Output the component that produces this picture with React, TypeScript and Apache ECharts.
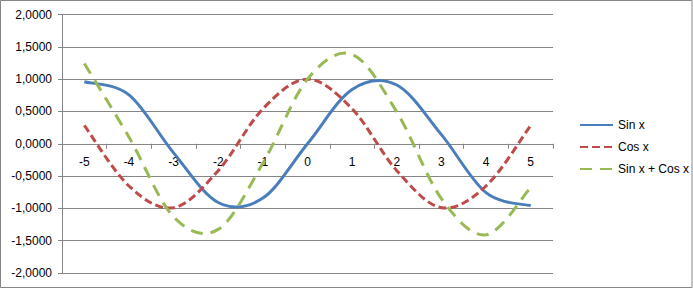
import React, { useEffect, useRef } from "react";
import * as echarts from "echarts";

const categories = ["-5", "-4", "-3", "-2", "-1", "0", "1", "2", "3", "4", "5"];
const sinValues = [0.959, 0.757, -0.141, -0.909, -0.841, 0.0, 0.841, 0.909, 0.141, -0.757, -0.959];
const cosValues = [0.284, -0.654, -0.99, -0.416, 0.54, 1.0, 0.54, -0.416, -0.99, -0.654, 0.284];
const sumValues = [1.243, 0.103, -1.131, -1.325, -0.301, 1.0, 1.382, 0.493, -0.849, -1.41, -0.675];
const yTicks = [-2, -1.5, -1, -0.5, 0, 0.5, 1, 1.5, 2];

const FONT = "Liberation Sans";
const GRID = "#868686";
const GRID_TOP = 14.5;
const GRID_BOTTOM = 16;
const H = 289;

// Excel-like (Catmull-Rom) smoothing through points mapped by the chart's own axes
function smoothPath(pts: number[][]): string {
  const n = pts.length;
  if (n === 0) return "";
  let d = `M${pts[0][0]},${pts[0][1]}`;
  for (let i = 0; i < n - 1; i++) {
    const p0 = pts[Math.max(0, i - 1)];
    const p1 = pts[i];
    const p2 = pts[i + 1];
    const p3 = pts[Math.min(n - 1, i + 2)];
    const c1x = p1[0] + (p2[0] - p0[0]) / 6;
    const c1y = p1[1] + (p2[1] - p0[1]) / 6;
    const c2x = p2[0] - (p3[0] - p1[0]) / 6;
    const c2y = p2[1] - (p3[1] - p1[1]) / 6;
    d += ` C${c1x},${c1y} ${c2x},${c2y} ${p2[0]},${p2[1]}`;
  }
  return d;
}

function curveSeries(name: string, values: number[], color: string, dash: number[] | null) {
  return {
    name,
    type: "custom",
    data: values.map((v, i) => [i, v]),
    encode: { x: 0, y: 1 },
    clip: false,
    renderItem: (params: any, api: any) => {
      if (params.dataIndex !== 0) return null;
      const pts = values.map((v, i) => api.coord([i, v]));
      return {
        type: "path",
        shape: { pathData: smoothPath(pts) },
        style: {
          fill: "none",
          stroke: color,
          lineWidth: 3,
          lineDash: dash || undefined,
          lineCap: "butt",
          lineJoin: "round",
        },
      };
    },
  };
}

function legendSeries(name: string, color: string, dash: number[] | null) {
  return {
    name,
    type: "line",
    data: [],
    symbol: "none",
    color,
    lineStyle: { width: 3, color, type: dash || "solid", cap: "butt" },
  };
}

export default function App() {
  const ref = useRef<HTMLDivElement>(null);
  useEffect(() => {
    if (!ref.current) return;
    const chart = echarts.init(ref.current, null, { renderer: "svg" });
    const plotH = H - GRID_TOP - GRID_BOTTOM;
    const blue = "#4A7EBB";
    const red = "#BE4B48";
    const green = "#98B954";
    chart.setOption({
      animation: false,
      backgroundColor: "#ffffff",
      textStyle: { fontFamily: FONT },
      graphic: [
        {
          type: "rect",
          shape: { x: 0.5, y: 0.5, width: 691.5, height: 287 },
          style: { fill: "none", stroke: GRID, lineWidth: 1 },
          silent: true,
        },
      ],
      grid: { left: 62, right: 140, top: GRID_TOP, bottom: GRID_BOTTOM, containLabel: false },
      legend: {
        orient: "vertical",
        left: 574,
        top: 114,
        itemWidth: 33,
        itemHeight: 14,
        itemGap: 10,
        itemStyle: { opacity: 0 },
        textStyle: { fontFamily: FONT, fontSize: 12, color: "#000" },
        data: ["Sin x", "Cos x", "Sin x + Cos x"],
      },
      xAxis: {
        type: "category",
        data: categories,
        boundaryGap: true,
        offset: -plotH / 2,
        axisLine: { onZero: false, lineStyle: { color: GRID, width: 1 } },
        axisTick: { show: true, length: 5, interval: 0, lineStyle: { color: GRID } },
        axisLabel: { margin: 12, color: "#000", fontSize: 12, fontFamily: FONT, interval: 0 },
        splitLine: { show: false },
      },
      yAxis: {
        type: "value",
        min: yTicks[0],
        max: yTicks[yTicks.length - 1],
        interval: 0.5,
        axisLine: { show: true, lineStyle: { color: GRID, width: 1 } },
        axisTick: { show: true, length: 4, lineStyle: { color: GRID } },
        axisLabel: {
          margin: 10,
          color: "#000",
          fontSize: 12,
          fontFamily: FONT,
          formatter: (v: number) => v.toFixed(4).replace(".", ","),
        },
        splitLine: { show: true, lineStyle: { color: GRID, width: 1 } },
      },
      series: [
        legendSeries("Sin x", blue, null),
        legendSeries("Cos x", red, [8, 4]),
        legendSeries("Sin x + Cos x", green, [12, 8]),
        curveSeries("Sin x", sinValues, blue, null),
        curveSeries("Cos x", cosValues, red, [8, 4]),
        curveSeries("Sin x + Cos x", sumValues, green, [12, 8]),
      ],
    });
    return () => chart.dispose();
  }, []);
  return (
    <div
      ref={ref}
      style={{ position: "fixed", left: 0, top: 0, width: 693, height: 289 }}
    />
  );
}
